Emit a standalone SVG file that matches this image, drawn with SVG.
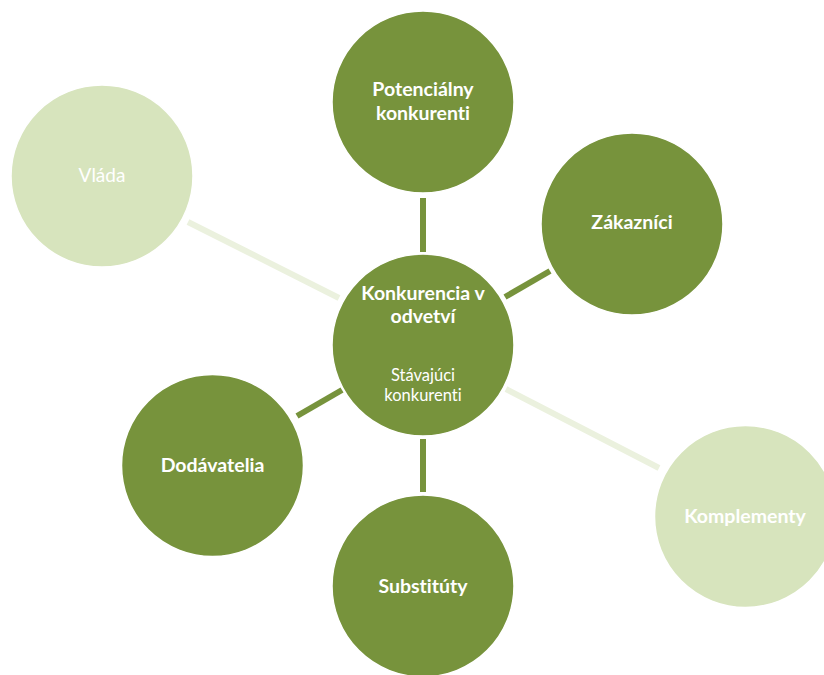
<svg xmlns="http://www.w3.org/2000/svg" width="824" height="675" viewBox="0 0 824 675">
<style>
.dark{fill:#77933C;stroke:#ffffff;stroke-width:1.5}
.light{fill:#D7E4BD;stroke:#ffffff;stroke-width:1.5}
.cd{stroke:#77933C;stroke-width:6;fill:none}
.cl{stroke:#EBF1DE;stroke-width:6;fill:none}
text{font-family:Lato,"Open Sans","Liberation Sans",sans-serif;fill:#ffffff;text-anchor:middle;font-variant-ligatures:none}
.b{font-weight:bold;font-size:19.5px}
.r{font-size:16.5px}
.v{font-size:19px}
</style>
<rect width="824" height="675" fill="#ffffff"/>
<g id="connectors">
<line class="cd" x1="423" y1="198" x2="423" y2="252"/>
<line class="cd" x1="505" y1="297" x2="550" y2="271"/>
<line class="cl" x1="188" y1="222" x2="339" y2="298"/>
<line class="cd" x1="297" y1="416" x2="342" y2="390"/>
<line class="cd" x1="423" y1="439" x2="423" y2="492"/>
<line class="cl" x1="506" y1="389" x2="659" y2="468"/>
</g>
<g id="center">
<circle class="dark" cx="423" cy="345" r="91"/>
<text class="b" x="423" y="300">Konkurencia v</text>
<text class="b" x="423" y="323">odvetví</text>
<text class="r" x="423" y="381">Stávajúci</text>
<text class="r" x="423" y="401">konkurenti</text>
</g>
<g id="potencialny">
<circle class="dark" cx="423" cy="102" r="91"/>
<text class="b" x="423" y="96">Potenciálny</text>
<text class="b" x="423" y="120">konkurenti</text>
</g>
<g id="zakaznici">
<circle class="dark" cx="632" cy="224" r="91"/>
<text class="b" x="632" y="229">Zákazníci</text>
</g>
<g id="vlada">
<circle class="light" cx="102" cy="176" r="91"/>
<text class="v" x="102" y="182">Vláda</text>
</g>
<g id="dodavatelia">
<circle class="dark" cx="212.5" cy="465.5" r="91"/>
<text class="b" x="212.5" y="472">Dodávatelia</text>
</g>
<g id="substituty">
<circle class="dark" cx="423" cy="586" r="91"/>
<text class="b" x="423" y="593">Substitúty</text>
</g>
<g id="komplementy">
<circle class="light" cx="745.5" cy="516.5" r="91"/>
<text class="b" x="745" y="523">Komplementy</text>
</g>
</svg>
